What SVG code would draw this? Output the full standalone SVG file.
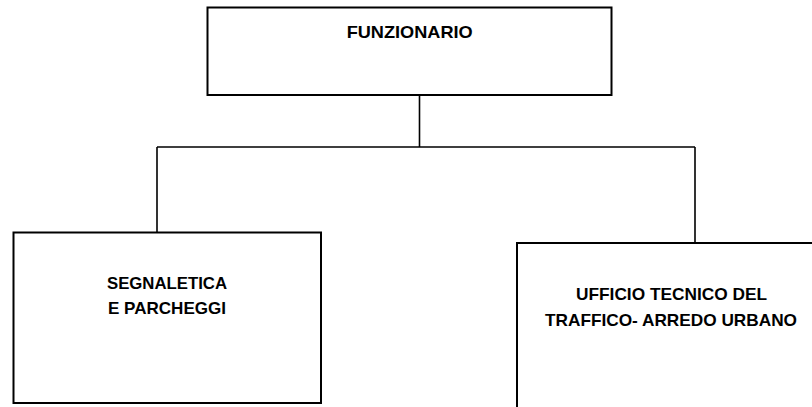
<svg xmlns="http://www.w3.org/2000/svg" width="812" height="407" viewBox="0 0 812 407">
<style>
.box{fill:#fff;stroke:#000;stroke-width:2}
.con{fill:none;stroke:#000;stroke-width:1.6}
.t{font-family:"Liberation Sans",Arial,sans-serif;font-weight:bold;font-size:17px;fill:#000;text-anchor:middle}
</style>
<rect width="812" height="407" fill="#fff"/>
<g id="connectors">
<path class="con" d="M419.5 95V147M157 147H695M157 147V232M695 147V243"/>
</g>
<g id="funzionario">
<rect class="box" x="207.5" y="7.5" width="404" height="87.5"/>
<text class="t" x="409.7" y="38" textLength="126" lengthAdjust="spacingAndGlyphs">FUNZIONARIO</text>
</g>
<g id="segnaletica">
<rect class="box" x="13.5" y="232.5" width="307.5" height="170.5"/>
<text class="t" x="167" y="289" textLength="120" lengthAdjust="spacingAndGlyphs">SEGNALETICA</text>
<text class="t" x="167" y="314" textLength="118" lengthAdjust="spacingAndGlyphs">E PARCHEGGI</text>
</g>
<g id="ufficio">
<rect class="box" x="517" y="243" width="310" height="180"/>
<text class="t" x="671.5" y="300" textLength="191" lengthAdjust="spacingAndGlyphs">UFFICIO TECNICO DEL</text>
<text class="t" x="671" y="326" textLength="252" lengthAdjust="spacingAndGlyphs">TRAFFICO- ARREDO URBANO</text>
</g>
</svg>
